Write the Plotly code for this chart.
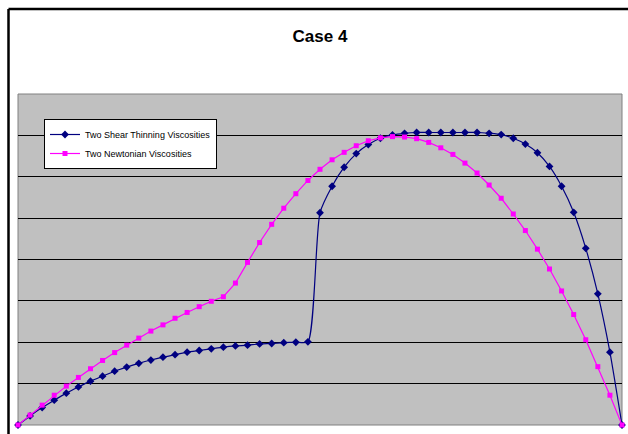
import plotly.graph_objects as go

# x positions (index along the profile)
x_vals = list(range(51))

shear_thinning = [0.00, 0.22, 0.42, 0.60, 0.77, 0.92, 1.06, 1.18, 1.30, 1.40,
                  1.49, 1.57, 1.64, 1.70, 1.76, 1.80, 1.84, 1.88, 1.91, 1.93,
                  1.96, 1.97, 1.99, 2.00, 2.01, 5.13, 5.77, 6.23, 6.56, 6.78,
                  6.93, 7.01, 7.05, 7.07, 7.07, 7.07, 7.07, 7.07, 7.07, 7.05,
                  7.02, 6.93, 6.79, 6.58, 6.25, 5.77, 5.14, 4.27, 3.17, 1.76,
                  0.00]

newtonian = [0.00, 0.24, 0.48, 0.72, 0.94, 1.15, 1.36, 1.56, 1.75, 1.93,
             2.10, 2.27, 2.42, 2.58, 2.72, 2.86, 2.99, 3.10, 3.43, 3.93,
             4.41, 4.85, 5.24, 5.59, 5.91, 6.18, 6.41, 6.59, 6.75, 6.87,
             6.94, 6.97, 6.96, 6.92, 6.83, 6.70, 6.54, 6.33, 6.09, 5.80,
             5.48, 5.10, 4.70, 4.25, 3.77, 3.24, 2.67, 2.06, 1.41, 0.72,
             0.00]

series_names = ["Two Shear Thinning Viscosities", "Two Newtonian Viscosities"]
title_text = "Case 4"

fig = go.Figure()
fig.add_trace(go.Scatter(
    x=x_vals, y=shear_thinning, name=series_names[0], mode="lines+markers",
    line=dict(color="#000080", width=1.2, shape="spline", smoothing=0.6),
    marker=dict(symbol="diamond", size=6, color="#000080"),
    cliponaxis=False,
))
fig.add_trace(go.Scatter(
    x=x_vals, y=newtonian, name=series_names[1], mode="lines+markers",
    line=dict(color="#FF00FF", width=1.2),
    marker=dict(symbol="square", size=5, color="#FF00FF"),
    cliponaxis=False,
))

# Figure fills the whole 628x434 window (body margin removed below).
W, H = 628, 434
# plot area in screen px: x 18..622, y 94..425
L, R, T, B = 18, 6, 94, 9
pw, ph = W - L - R, H - T - B

def px(xs):
    return (xs - L) / pw

def py(ys):
    return (H - B - ys) / ph

fig.update_layout(
    width=W, height=H,
    margin=dict(l=L, r=R, t=T, b=B, pad=0),
    paper_bgcolor="white",
    plot_bgcolor="#C0C0C0",
    font=dict(family="Arial, Liberation Sans, sans-serif", color="black"),
    title=dict(text="<b>" + title_text + "</b>", x=px(320), xref="paper",
               xanchor="center", y=1 - 36 / H, yanchor="middle",
               font=dict(size=17, family="Arial, Liberation Sans, sans-serif")),
    showlegend=True,
    legend=dict(
        x=px(44), y=py(119), xanchor="left", yanchor="top",
        bgcolor="white", bordercolor="black", borderwidth=1,
        font=dict(size=9, family="Arial, Liberation Sans, sans-serif"),
        itemwidth=30, tracegroupgap=0,
    ),
    xaxis=dict(range=[0, 50], showgrid=False, zeroline=False, showticklabels=False,
               ticks="", showline=False),
    yaxis=dict(range=[0, 8], dtick=1, showgrid=True, gridcolor="black", gridwidth=1,
               zeroline=False, showticklabels=False, ticks="", showline=False),
    shapes=[
        # plot-area border
        dict(type="rect", xref="paper", yref="paper", x0=0, x1=1, y0=0, y1=1,
             line=dict(color="#808080", width=1), fillcolor="rgba(0,0,0,0)",
             layer="below"),
        # outer chart-area frame: top and left edges
        dict(type="line", xref="paper", yref="paper",
             x0=px(8.5), x1=px(W), y0=py(9), y1=py(9),
             line=dict(color="black", width=2.5), layer="above"),
        dict(type="line", xref="paper", yref="paper",
             x0=px(8.5), x1=px(8.5), y0=py(9), y1=py(H),
             line=dict(color="black", width=2.5), layer="above"),
    ],
)

fig.write_html(
    "out.html",
    config={"displayModeBar": False},
    post_script=("document.body.style.margin='0';"
                 "document.body.style.overflow='hidden';"
                 "document.documentElement.style.overflow='hidden';"),
)
